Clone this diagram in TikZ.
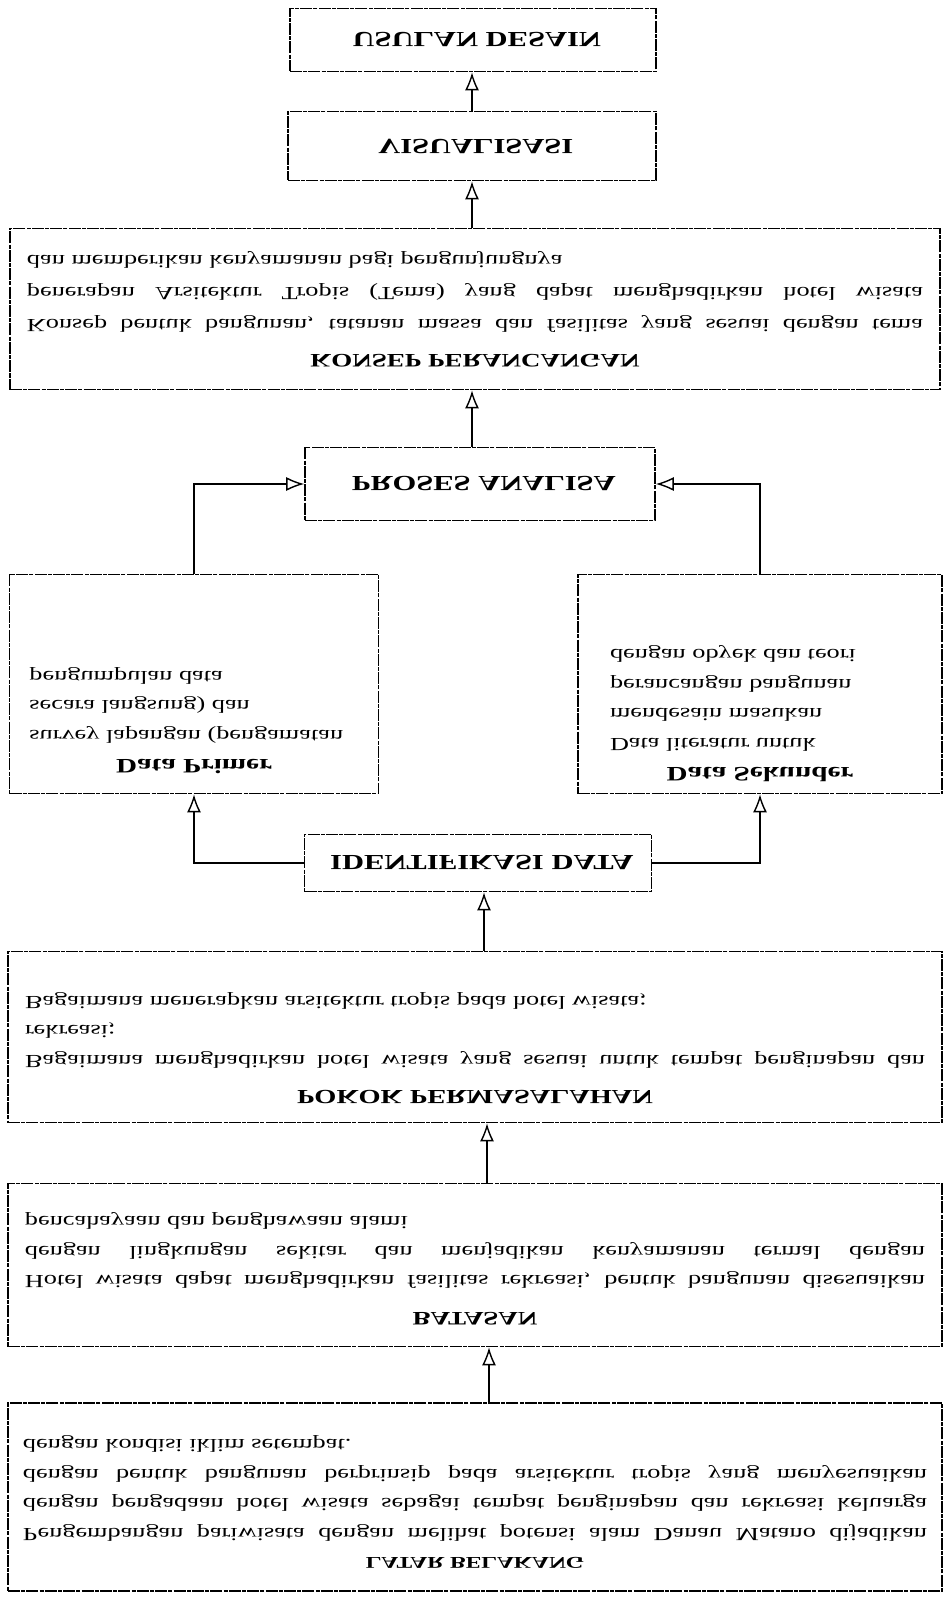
\documentclass[tikz,border=0pt]{standalone}
\usepackage{fontspec}
\setmainfont{Liberation Serif}[FakeStretch=1.42]
\usepackage{graphicx}
\usetikzlibrary{arrows.meta}
\newcommand{\flipped}[1]{\scalebox{1}[-1]{#1}}
\newcommand{\ttl}[1][20]{\fontsize{#1}{29.5}\selectfont\bfseries}
\newcommand{\bodyfont}{\fontsize{18.5}{29.5}\selectfont}

\begin{document}
\begin{tikzpicture}[
    x=1pt, y=-1pt,
    box/.style={rectangle, draw=black, line width=1.6pt,
                dash pattern=on 12pt off 1.2pt on 4pt off 1.2pt,
                inner sep=0pt, font=\bodyfont},
    arr/.style={-{Latex[open, length=18pt, width=14pt, line width=1.4pt]}, line width=1.6pt, draw=black}
]
\useasboundingbox (0,0) rectangle (947,1597);

\node[box, minimum width=366pt, minimum height=63pt] (usul) at (473,40) {\flipped{\ttl[21.5] USULAN DESAIN}};
\node[box, minimum width=368pt, minimum height=69pt] (visu) at (472,146) {\flipped{\ttl[21.5] VISUALISASI}};

\node[box, minimum width=930pt, minimum height=161pt] (konsep) at (475,309) {\flipped{\parbox{896pt}{%
  \baselineskip=32pt
  {\centering\ttl[19] KONSEP PERANCANGAN\par}\vspace{3pt}
  Konsep bentuk bangunan, tatanan massa dan fasilitas yang sesuai dengan tema\linebreak
  penerapan Arsitektur Tropis (Tema) yang dapat menghadirkan hotel wisata\linebreak
  dan memberikan kenyamanan bagi pengunjungnya\par}}};

\node[box, minimum width=350pt, minimum height=73pt] (proses) at (480,484) {\flipped{\ttl[21.5] PROSES ANALISA}};

\node[box, minimum width=369pt, minimum height=219pt] (prim) at (194,684) {\flipped{\parbox[c][180pt][t]{329pt}{\raggedright
  {\centering\ttl[20.5] Data Primer\par}
  survey lapangan (pengamatan\\
  secara langsung) dan\\
  pengumpulan data}}};
\node[box, minimum width=364pt, minimum height=219pt] (sek) at (760,684) {\flipped{\parbox[c][196pt][t]{300pt}{\raggedright
  {\centering\ttl[20.5] Data Sekunder\par}
  Data literatur untuk\\
  mendesain masukan\\
  perancangan bangunan\\
  dengan obyek dan teori}}};

\node[box, minimum width=347pt, minimum height=57pt] (ident) at (478,863) {\flipped{\ttl[21.5] IDENTIFIKASI DATA}};

\node[box, minimum width=934pt, minimum height=171pt] (pokok) at (475,1037) {\flipped{\parbox{900pt}{%
  {\centering\ttl[20] POKOK PERMASALAHAN\par}\vspace{6pt}
  Bagaimana menghadirkan hotel wisata yang sesuai untuk tempat penginapan dan\linebreak
  rekreasi;\par
  Bagaimana menerapkan arsitektur tropis pada hotel wisata;\par\vspace*{22pt}}}};

\node[box, minimum width=934pt, minimum height=163pt] (batasan) at (475,1265) {\flipped{\parbox{900pt}{%
  {\centering\ttl[19] BATASAN\par}\vspace{7pt}
  Hotel wisata dapat menghadirkan fasilitas rekreasi, bentuk bangunan disesuaikan\linebreak
  dengan lingkungan sekitar dan menjadikan kenyamanan termal dengan\linebreak
  pencahayaan dan penghawaan alami\par\vspace*{8pt}}}};

\node[box, minimum width=934pt, minimum height=188pt] (latar) at (475,1497) {\flipped{\parbox{904pt}{%
  {\centering\ttl[16.5] LATAR BELAKANG\par}
  Pengembangan pariwisata dengan melihat potensi alam Danau Matano dijadikan\linebreak
  dengan pengadaan hotel wisata sebagai tempat penginapan dan rekreasi keluarga\linebreak
  dengan bentuk bangunan berprinsip pada arsitektur tropis yang menyesuaikan\linebreak
  dengan kondisi iklim setempat.\par\vspace*{10pt}}}};

\draw[arr] ([xshift=14pt]latar.north) -- ([xshift=14pt]batasan.south);
\draw[arr] ([xshift=12pt]batasan.north) -- ([xshift=12pt]pokok.south);
\draw[arr] ([xshift=6pt]ident.south |- pokok.north) -- ([xshift=6pt]ident.south);
\draw[arr] (ident.west) -| (prim.south);
\draw[arr] (ident.east) -| (sek.south);
\draw[arr] (prim.north) |- (proses.west);
\draw[arr] (sek.north) |- (proses.east);
\draw[arr] (proses.north -| visu.south) -- (konsep.south -| visu.south);
\draw[arr] (konsep.north -| visu.south) -- (visu.south);
\draw[arr] (visu.north) -- (visu.north |- usul.south);
\end{tikzpicture}
\end{document}
